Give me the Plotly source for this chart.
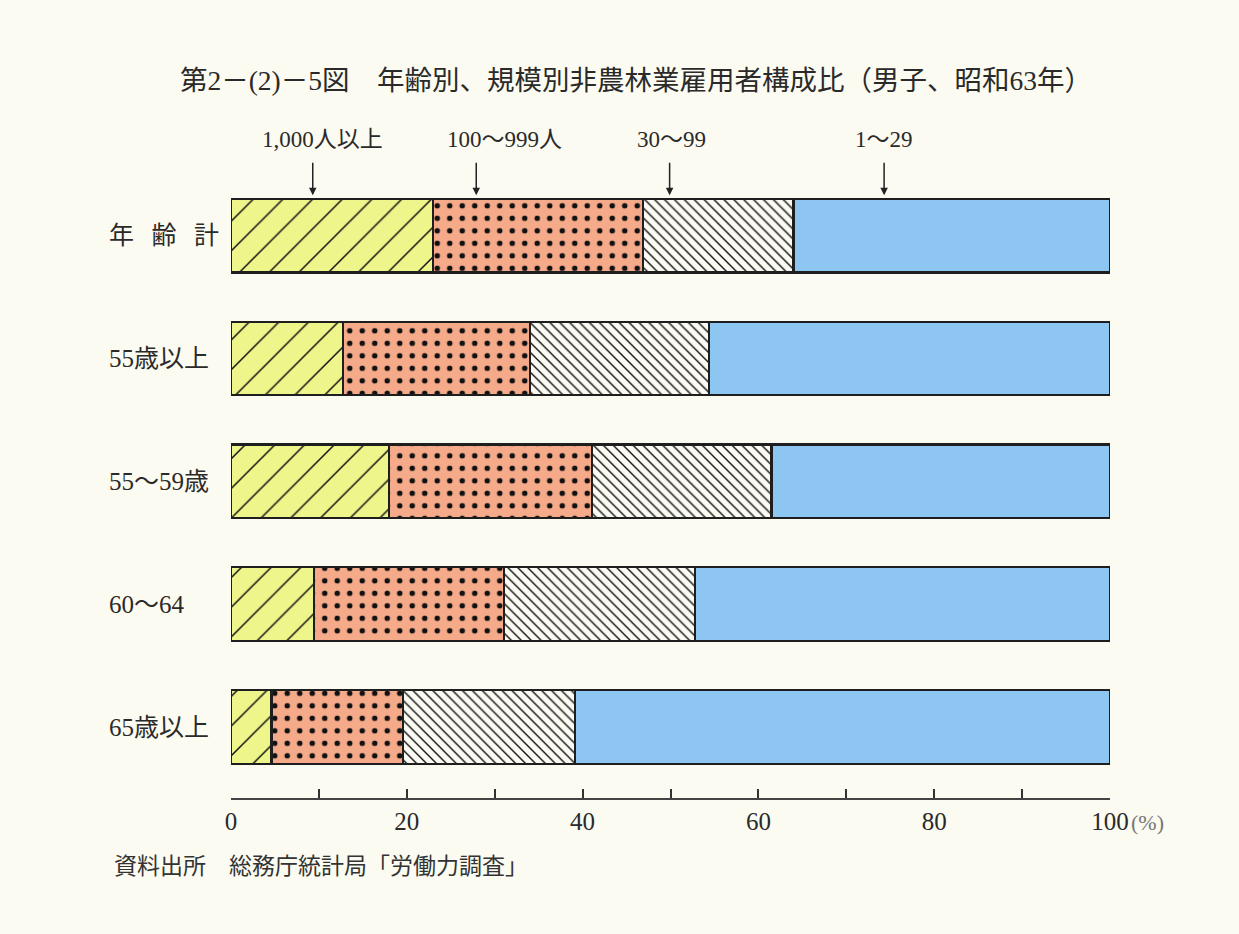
import plotly.graph_objects as go

# ---- data ----
categories = ["年\u2002\u2009齢\u2002\u2009計", "55歳以上", "55～59歳", "60～64", "65歳以上"]
segments = ["1,000人以上", "100～999人", "30～99", "1～29"]
v_1000 = [23.0, 12.7, 18.0, 9.4, 4.6]
v_100 = [23.9, 21.3, 23.1, 21.7, 15.0]
v_30 = [17.1, 20.4, 20.4, 21.7, 19.5]
v_1 = [36.0, 45.6, 38.5, 47.2, 60.9]
series = [v_1000, v_100, v_30, v_1]
x_ticks = [0, 10, 20, 30, 40, 50, 60, 70, 80, 90, 100]
x_ticktext = ["0", "", "20", "", "40", "", "60", "", "80", "", "100"]

# legend arrow targets (% positions on top bar) and label positions
arrow_x = [9.3, 27.9, 49.9, 74.3]
label_x = [10.4, 31.1, 50.1, 74.3]

# ---- styles ----
fills = ["#eef58a", "#f5aa8a", "#fbfbf3", "#8ec6f2"]
shapes = ["/", ".", "\\", ""]
psize = [21, 12.5, 7, 10]
psol = [0.07, 0.15, 0.2, 0.1]
BG = "#fcfbf1"
FONT = "Liberation Serif, Noto Sans CJK JP, serif"


def px_x(p):
    return (p - 231) / 879


def px_y(p):
    return (798 - p) / 636


fig = go.Figure()
for name, vals, col, sh, sz, so in zip(segments, series, fills, shapes, psize, psol):
    fig.add_trace(go.Bar(
        y=categories, x=vals, name=name, orientation="h", width=0.6,
        marker=dict(color=col, line=dict(color="#1e1e1e", width=2.2),
                    pattern=dict(shape=sh, fgcolor="#111111", bgcolor=col,
                                 size=sz, solidity=so, fillmode="replace")),
        showlegend=False,
    ))

annotations = []
# category labels (left aligned)
for c in categories:
    annotations.append(dict(x=px_x(107), xref="paper", y=c, yref="y", text=c,
                            showarrow=False, xanchor="left",
                            font=dict(size=25, color="#2a2a2a", family=FONT)))
# legend arrows and labels
for ax_, lx, s in zip(arrow_x, label_x, segments):
    annotations.append(dict(x=ax_, xref="x", y=-0.33, yref="y", text="",
                            showarrow=True, ax=0, ay=-34, arrowhead=2,
                            arrowsize=1, arrowwidth=1.5, arrowcolor="#222222"))
    annotations.append(dict(x=lx, xref="x", y=px_y(140), yref="paper", text=s,
                            showarrow=False, xanchor="center", yanchor="middle",
                            font=dict(size=23, color="#2a2a2a", family=FONT)))
# (%) unit
annotations.append(dict(x=px_x(1129), xref="paper", y=px_y(822), yref="paper",
                        text="(%)", showarrow=False, xanchor="left", yanchor="middle",
                        font=dict(size=22, color="#777777", family=FONT)))
# source
annotations.append(dict(x=px_x(112), xref="paper", y=px_y(866), yref="paper",
                        text="資料出所　総務庁統計局「労働力調査」",
                        showarrow=False, xanchor="left", yanchor="middle",
                        font=dict(size=23, color="#333333", family=FONT)))

fig.update_layout(
    barmode="stack",
    width=1239, height=934,
    margin=dict(l=231, r=129, t=162, b=136),
    paper_bgcolor=BG, plot_bgcolor=BG,
    title=dict(text="第2－(2)－5図　年齢別、規模別非農林業雇用者構成比（男子、昭和63年）",
               x=636 / 1239, xanchor="center", y=1 - 80 / 934, yanchor="middle",
               font=dict(size=27.5, color="#2a2a2a", family=FONT)),
    annotations=annotations,
    xaxis=dict(range=[0, 100], tickvals=x_ticks, ticktext=x_ticktext,
               ticks="inside", ticklen=9, tickwidth=1.5, tickcolor="#333333",
               showline=True, linecolor="#444444", linewidth=2,
               showgrid=False, zeroline=False,
               tickfont=dict(size=25, color="#2a2a2a", family=FONT)),
    yaxis=dict(range=[4.578, -0.6], showticklabels=False, showgrid=False,
               zeroline=False, showline=False, ticks=""),
)

fig.write_html("out.html")
